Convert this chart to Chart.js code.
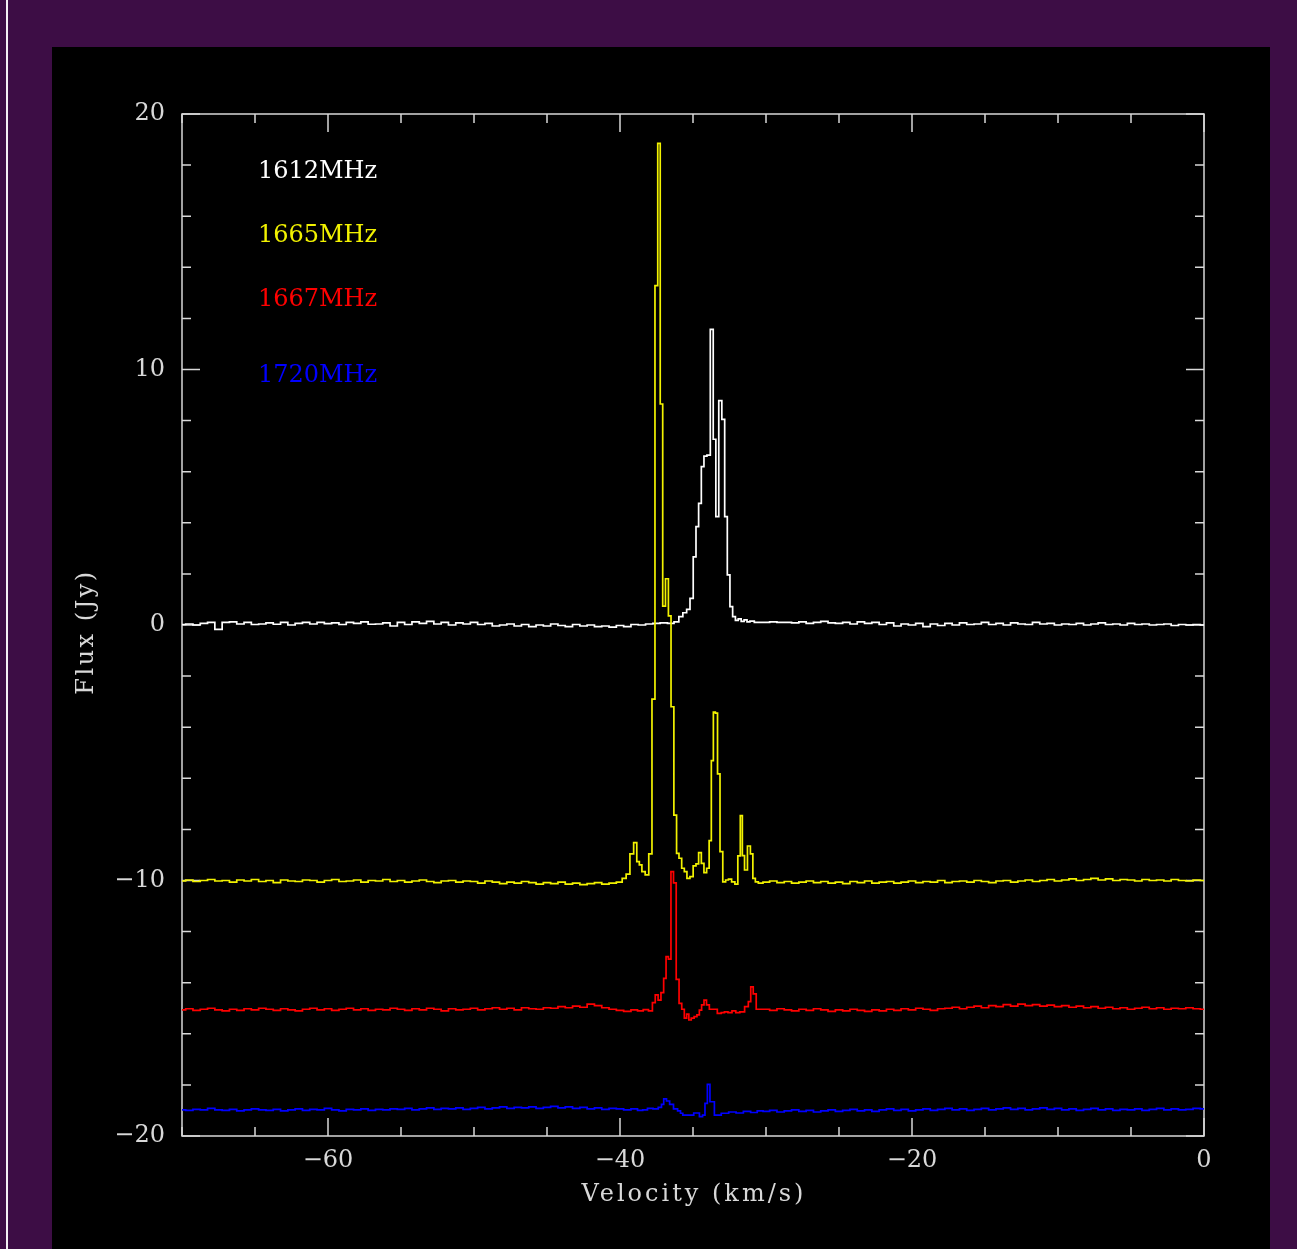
<!DOCTYPE html>
<html>
<head>
<meta charset="utf-8">
<title>OH maser spectra</title>
<script src="https://cdn.jsdelivr.net/npm/chart.js@4.4.1/dist/chart.umd.min.js"></script>
<style>
    html, body {
        margin: 0;
        padding: 0;
        width: 1297px;
        height: 1249px;
        overflow: hidden;
        background: #3d0d45;
    }
    .edge-line {
        position: absolute;
        left: 6px;
        top: 0;
        width: 2px;
        height: 1249px;
        background: #f4f0f4;
    }
    .panel {
        position: absolute;
        left: 52px;
        top: 47px;
        width: 1218px;
        height: 1202px;
        background: #000;
    }
</style>
</head>
<body>
<div class="edge-line"></div>
<div class="panel">
    <canvas id="spectrumChart" width="1218" height="1202"></canvas>
</div>
<script>
// Shared baseline velocity grids (km/s)
const velLeft = [
    -70, -69.5, -69, -68.5, -68, -67.5, -67, -66.5, -66, -65.5,
    -65, -64.5, -64, -63.5, -63, -62.5, -62, -61.5, -61, -60.5,
    -60, -59.5, -59, -58.5, -58, -57.5, -57, -56.5, -56, -55.5,
    -55, -54.5, -54, -53.5, -53, -52.5, -52, -51.5, -51, -50.5,
    -50, -49.5, -49, -48.5, -48, -47.5, -47, -46.5, -46, -45.5,
    -45, -44.5, -44, -43.5, -43, -42.5, -42, -41.5, -41, -40.5
];
const velRight = [
    -30, -29.5, -29, -28.5, -28, -27.5, -27, -26.5, -26, -25.5,
    -25, -24.5, -24, -23.5, -23, -22.5, -22, -21.5, -21, -20.5,
    -20, -19.5, -19, -18.5, -18, -17.5, -17, -16.5, -16, -15.5,
    -15, -14.5, -14, -13.5, -13, -12.5, -12, -11.5, -11, -10.5,
    -10, -9.5, -9, -8.5, -8, -7.5, -7, -6.5, -6, -5.5,
    -5, -4.5, -4, -3.5, -3, -2.5, -2, -1.5, -1, -0.5,
    0
];

// 1612 MHz (plotted flux, Jy)
const f1612Left = [
    0.02, 0.04, 0.0, 0.06, 0.1, -0.17, 0.1, 0.12, 0.04, 0.1,
    0.02, 0.04, 0.08, 0.03, 0.1, 0.0, 0.06, 0.1, 0.04, 0.1,
    0.05, 0.08, 0.02, 0.1, 0.06, 0.12, 0.03, 0.04, 0.08, -0.04,
    0.1, 0.02, 0.12, 0.06, 0.14, 0.04, 0.1, 0.0, 0.08, 0.04,
    0.1, 0.02, 0.06, -0.04, 0.0, 0.04, -0.04, 0.02, -0.06, 0.0,
    -0.04, 0.04, -0.02, -0.06, 0.02, -0.04, 0.0, -0.06, -0.04, -0.08
];
const v1612Mid = [
    -40, -39.5, -39, -38.5, -38, -37.5, -37, -36.5, -36.1, -35.84,
    -35.55, -35.32, -35.09, -34.88, -34.71, -34.52, -34.34, -34.16, -33.93, -33.70,
    -33.53, -33.34, -33.13, -32.92, -32.74, -32.56, -32.38, -32.19, -32.0, -31.8,
    -31.6, -31.4, -31.2, -31.0, -30.6
];
const f1612Mid = [
    -0.02, -0.06, 0.02, 0.0, 0.04, 0.06, 0.08, 0.06, 0.12, 0.33,
    0.48, 0.61, 1.04, 2.67, 3.85, 4.76, 6.2, 6.61, 6.65, 11.57,
    7.27, 4.24, 8.78, 8.05, 4.24, 1.96, 0.72, 0.33, 0.18, 0.24,
    0.14, 0.2, 0.12, 0.15, 0.1
];
const f1612Right = [
    0.1, 0.12, 0.1, 0.1, 0.08, 0.12, 0.06, 0.1, 0.14, 0.08,
    0.06, 0.1, 0.04, 0.12, 0.06, 0.1, 0.02, 0.08, -0.04, 0.04,
    0.0, 0.06, -0.06, 0.04, -0.02, 0.06, 0.0, 0.08, 0.02, 0.04,
    0.1, 0.02, 0.06, 0.0, 0.08, 0.04, 0.02, 0.1, 0.04, 0.06,
    0.0, 0.04, 0.02, 0.06, 0.0, 0.04, 0.08, 0.02, 0.04, 0.0,
    0.06, 0.02, 0.04, 0.0, 0.02, 0.04, -0.02, 0.02, 0.0, 0.02,
    0.0
];

// 1665 MHz
const f1665Left = [
    -10.02, -9.98, -10.04, -10.0, -9.96, -10.02, -10.0, -10.06, -9.98, -10.02,
    -9.96, -10.04, -10.0, -10.08, -9.98, -10.02, -10.04, -9.98, -10.0, -10.06,
    -10.0, -9.96, -10.04, -10.02, -9.98, -10.06, -10.0, -10.02, -9.96, -10.04,
    -10.0, -10.06, -10.02, -9.98, -10.04, -10.08, -10.02, -10.0, -10.06, -10.02,
    -10.04, -10.1, -10.02, -10.06, -10.12, -10.06, -10.1, -10.04, -10.08, -10.14,
    -10.08, -10.12, -10.06, -10.14, -10.1, -10.16, -10.12, -10.08, -10.14, -10.1
];
const v1665Mid = [
    -40, -39.7, -39.46, -39.18, -38.95, -38.75, -38.60, -38.40, -38.15, -37.91,
    -37.71, -37.50, -37.33, -37.16, -36.99, -36.78, -36.59, -36.42, -36.20, -36.05,
    -35.87, -35.68, -35.51, -35.32, -35.10, -34.88, -34.71, -34.52, -34.34, -34.16,
    -33.97, -33.82, -33.67, -33.54, -33.40, -33.24, -33.06, -32.86, -32.67, -32.47,
    -32.24, -32.02, -31.84, -31.68, -31.56, -31.38, -31.16, -30.98, -30.82, -30.64,
    -30.41
];
const f1665Mid = [
    -10.06, -9.92, -9.75, -8.96, -8.52, -9.26, -9.39, -9.65, -9.78, -8.96,
    -2.9, 13.28, 18.85, 8.65, 0.74, 1.81, 0.36, -3.2, -7.44, -8.94,
    -9.13, -9.52, -9.65, -9.92, -9.85, -9.43, -9.35, -8.91, -9.33, -9.69,
    -9.52, -8.44, -5.31, -3.41, -3.45, -5.83, -8.87, -10.05, -9.98, -9.95,
    -10.05, -10.14, -9.04, -7.46, -9.03, -9.59, -8.65, -8.96, -9.92, -10.05,
    -10.1
];
const f1665Right = [
    -10.06, -10.02, -10.08, -10.04, -10.1, -10.06, -10.02, -10.08, -10.04, -10.1,
    -10.06, -10.12, -10.04, -10.08, -10.02, -10.1, -10.06, -10.04, -10.1, -10.06,
    -10.02, -10.08, -10.04, -10.06, -10.0, -10.08, -10.04, -10.02, -10.06, -10.0,
    -10.04, -10.08, -10.02, -10.0, -10.06, -10.02, -9.98, -10.04, -10.0, -9.96,
    -10.02, -9.98, -9.94, -10.0, -9.96, -9.92, -9.98, -9.94, -10.0, -9.96,
    -9.98, -10.02, -9.96, -10.0, -9.98, -10.02, -9.96, -10.0, -10.02, -9.98,
    -10.0
];

// 1667 MHz
const f1667Left = [
    -15.06, -15.02, -15.08, -15.04, -15.0, -15.06, -15.1, -15.04, -15.08, -15.02,
    -15.06, -15.0, -15.04, -15.08, -15.02, -15.06, -15.1, -15.04, -15.0, -15.06,
    -15.02, -15.08, -15.04, -15.0, -15.06, -15.02, -15.08, -15.04, -15.06, -15.0,
    -15.04, -15.08, -15.02, -15.06, -15.0, -15.04, -15.1, -15.02, -15.06, -15.04,
    -15.0, -15.06, -15.02, -14.98, -15.04, -15.0, -15.06, -14.98, -15.02, -15.04,
    -14.98, -15.0, -14.94, -14.98, -14.92, -14.96, -14.84, -14.9, -14.98, -15.04
];
const v1667Mid = [
    -40, -39.5, -39, -38.6, -38.22, -37.88, -37.68, -37.49, -37.29, -37.10,
    -36.92, -36.77, -36.60, -36.42, -36.25, -36.05, -35.86, -35.68, -35.51, -35.36,
    -35.21, -35.03, -34.82, -34.64, -34.49, -34.33, -34.16, -33.99, -33.77, -33.49,
    -33.18, -32.95, -32.74, -32.47, -32.19, -31.95, -31.64, -31.29, -31.13, -30.96,
    -30.79, -30.55, -30.27
];
const f1667Mid = [
    -15.08, -15.12, -15.06, -15.1, -15.05, -15.10, -14.78, -14.48, -14.68, -14.39,
    -13.83, -12.98, -13.08, -9.65, -10.09, -13.87, -14.81, -15.04, -15.39, -15.23,
    -15.46, -15.39, -15.33, -15.26, -15.07, -14.87, -14.68, -14.87, -15.04, -15.04,
    -15.20, -15.17, -15.14, -15.17, -15.10, -15.17, -15.14, -14.94, -14.74, -14.16,
    -14.44, -15.04, -15.04
];
const f1667Right = [
    -15.04, -15.08, -15.02, -15.06, -15.1, -15.04, -15.08, -15.02, -15.06, -15.12,
    -15.06, -15.1, -15.04, -15.08, -15.12, -15.06, -15.1, -15.04, -15.08, -15.02,
    -15.06, -15.0, -15.04, -15.08, -15.02, -15.0, -14.96, -15.02, -14.96, -14.92,
    -14.98, -14.9, -14.94, -14.86, -14.92, -14.84, -14.9, -14.86, -14.92, -14.88,
    -14.94, -14.9, -14.96, -14.92, -14.98, -14.94, -15.0, -14.96, -15.02, -14.98,
    -15.04, -15.0, -14.96, -15.02, -14.98, -15.04, -15.0, -15.02, -14.98, -15.02,
    -15.04
];

// 1720 MHz
const f1720Left = [
    -18.98, -19.0, -18.96, -18.98, -18.92, -18.98, -19.0, -18.96, -19.02, -18.98,
    -18.94, -18.98, -19.0, -18.96, -19.02, -18.98, -18.94, -19.0, -18.96, -18.98,
    -18.92, -18.98, -19.02, -18.96, -18.98, -18.94, -19.0, -18.96, -18.98, -18.94,
    -18.96, -18.92, -18.98, -18.94, -18.9, -18.96, -18.92, -18.94, -18.9, -18.96,
    -18.92, -18.88, -18.94, -18.9, -18.86, -18.92, -18.88, -18.9, -18.86, -18.92,
    -18.88, -18.84, -18.9, -18.86, -18.92, -18.88, -18.94, -18.9, -18.96, -18.92
];
const v1720Mid = [
    -40, -39.5, -39, -38.6, -38.29, -37.95, -37.53, -37.23, -37.09, -36.92,
    -36.71, -36.49, -36.18, -35.93, -35.78, -35.62, -35.21, -34.69, -34.43, -34.26,
    -34.10, -33.93, -33.75, -33.32, -32.81, -32.3, -31.8, -31.3, -30.8, -30.4
];
const f1720Mid = [
    -18.94, -18.98, -18.94, -19.0, -18.98, -18.92, -18.94, -18.88, -18.76, -18.55,
    -18.63, -18.76, -18.94, -19.02, -19.11, -19.18, -19.18, -19.10, -19.24, -19.18,
    -18.72, -17.98, -18.66, -19.18, -19.11, -19.06, -19.1, -19.04, -19.08, -19.02
];
const f1720Right = [
    -19.04, -19.0, -19.06, -19.02, -18.98, -19.04, -19.0, -19.06, -19.02, -18.98,
    -19.04, -19.0, -18.96, -19.02, -18.98, -19.04, -18.98, -18.94, -19.0, -18.96,
    -19.02, -18.98, -18.94, -19.0, -18.96, -18.92, -18.98, -18.94, -19.0, -18.96,
    -18.92, -18.98, -18.94, -18.9, -18.96, -18.92, -18.98, -18.94, -18.9, -18.96,
    -18.92, -18.98, -18.94, -19.0, -18.96, -18.92, -18.98, -18.94, -19.0, -18.96,
    -18.98, -18.94, -19.0, -18.96, -18.92, -18.98, -18.94, -18.98, -18.96, -18.92,
    -18.94
];

// Axis ticks and legend labels
const xTicks = [-60, -40, -20, 0];
const yTicks = [-20, -10, 0, 10, 20];
const xTitle = 'Velocity (km/s)';
const yTitle = 'Flux (Jy)';
const lineNames = ['1612MHz', '1665MHz', '1667MHz', '1720MHz'];
const lineColors = ['#ffffff', '#f2f200', '#ff0000', '#0000ff'];
const labelX = -64.8;
const labelY = [17.5, 15, 12.5, 9.5];

const axisColor = '#d8d8d8';
const textFont = { family: '"DejaVu Serif", serif', size: 24 };

function toPoints(mid, left, midFlux, right) {
    const vel = velLeft.concat(mid, velRight);
    const flux = left.concat(midFlux, right);
    return vel.map((v, i) => ({ x: v, y: flux[i] }));
}

function fmtTick(value) {
    return value < 0 ? '\u2212' + Math.abs(value) : String(value);
}

const series = [
    toPoints(v1612Mid, f1612Left, f1612Mid, f1612Right),
    toPoints(v1665Mid, f1665Left, f1665Mid, f1665Right),
    toPoints(v1667Mid, f1667Left, f1667Mid, f1667Right),
    toPoints(v1720Mid, f1720Left, f1720Mid, f1720Right)
];

// Frame, inward ticks, axis titles and line labels
const framePlugin = {
    id: 'frame',
    beforeDatasetsDraw(chart) {
        const { ctx, chartArea: a, scales: { x, y } } = chart;
        ctx.save();
        ctx.strokeStyle = axisColor;
        ctx.lineWidth = 1.5;
        ctx.strokeRect(a.left, a.top, a.right - a.left, a.bottom - a.top);
        ctx.beginPath();
        for (let v = -70; v <= 0; v += 5) {
            const px = x.getPixelForValue(v);
            const len = v % 20 === 0 ? 18 : 9;
            ctx.moveTo(px, a.bottom);
            ctx.lineTo(px, a.bottom - len);
            ctx.moveTo(px, a.top);
            ctx.lineTo(px, a.top + len);
        }
        for (let v = -20; v <= 20; v += 2) {
            const py = y.getPixelForValue(v);
            const len = v % 10 === 0 ? 18 : 9;
            ctx.moveTo(a.left, py);
            ctx.lineTo(a.left + len, py);
            ctx.moveTo(a.right, py);
            ctx.lineTo(a.right - len, py);
        }
        ctx.stroke();
        ctx.restore();
    },
    afterDraw(chart) {
        const { ctx, chartArea: a, scales: { x, y } } = chart;
        ctx.save();
        ctx.font = '24px "DejaVu Serif", serif';
        ctx.textAlign = 'left';
        ctx.textBaseline = 'alphabetic';
        lineNames.forEach((name, i) => {
            ctx.fillStyle = lineColors[i];
            ctx.fillText(name, x.getPixelForValue(labelX), y.getPixelForValue(labelY[i]));
        });

        // axis titles, Hershey-like wide spacing
        ctx.fillStyle = axisColor;
        ctx.textAlign = 'center';
        ctx.textBaseline = 'middle';
        ctx.letterSpacing = '3px';
        ctx.fillText(xTitle, (a.left + a.right) / 2 + 1, a.bottom + 59);
        ctx.letterSpacing = '2.5px';
        ctx.translate(35, (a.top + a.bottom) / 2 + 7);
        ctx.rotate(-Math.PI / 2);
        ctx.fillText(yTitle, 0, 0);
        ctx.restore();
    }
};

new Chart(document.getElementById('spectrumChart'), {
    type: 'line',
    data: {
        datasets: series.map((pts, i) => ({
            label: lineNames[i],
            data: pts,
            borderColor: lineColors[i],
            borderWidth: 1.7,
            stepped: 'middle',
            pointRadius: 0,
            fill: false,
            order: 4 - i
        }))
    },
    options: {
        responsive: false,
        animation: false,
        devicePixelRatio: 1,
        parsing: false,
        layout: {
            padding: { top: 67, right: 66, left: 0, bottom: 0 }
        },
        plugins: {
            legend: { display: false },
            tooltip: { enabled: false }
        },
        scales: {
            x: {
                type: 'linear',
                min: -70,
                max: 0,
                border: { display: false },
                grid: { display: false, drawTicks: false, tickLength: 0 },
                afterFit: scale => { scale.height = 113; },
                afterBuildTicks: scale => { scale.ticks = xTicks.map(v => ({ value: v })); },
                ticks: {
                    padding: 10,
                    color: axisColor,
                    font: textFont,
                    maxRotation: 0,
                    autoSkip: false,
                    callback: fmtTick
                }
            },
            y: {
                type: 'linear',
                min: -20,
                max: 20,
                border: { display: false },
                grid: { display: false, drawTicks: false, tickLength: 0 },
                afterFit: scale => { scale.width = 130; },
                afterBuildTicks: scale => { scale.ticks = yTicks.map(v => ({ value: v })); },
                ticks: {
                    padding: 17,
                    color: axisColor,
                    font: textFont,
                    autoSkip: false,
                    callback: fmtTick
                }
            }
        }
    },
    plugins: [framePlugin]
});
</script>
</body>
</html>
